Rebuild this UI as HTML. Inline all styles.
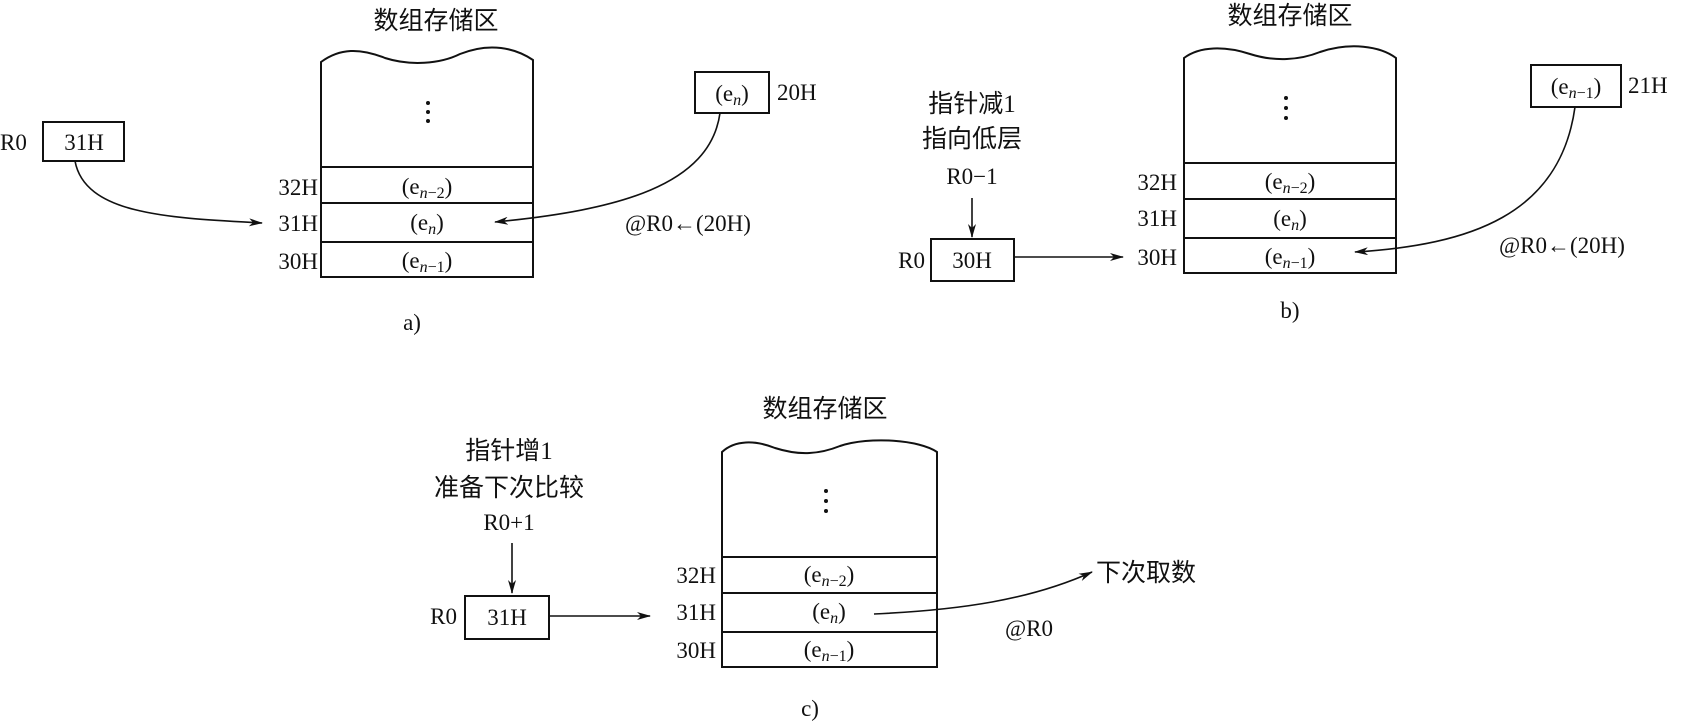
<!DOCTYPE html>
<html><head><meta charset="utf-8"><style>
html,body{margin:0;padding:0;background:#fff;}
svg{display:block;}
text{font-family:"Liberation Serif","Noto Serif CJK SC",serif;fill:#111;}
.cn{font-family:"Liberation Serif","Noto Sans CJK SC",sans-serif;font-size:25px;}
.t{font-size:23px;}
.s{font-size:16px;}
.i{font-style:italic;}
</style></head><body>
<svg width="1685" height="722" viewBox="0 0 1685 722" xmlns="http://www.w3.org/2000/svg">
<defs>
<marker id="ar" markerWidth="14" markerHeight="8" refX="13" refY="4" orient="auto" markerUnits="userSpaceOnUse">
<path d="M0,0 L14,4 L0,8 L4,4 Z" fill="#111"/></marker>
</defs>
<g stroke="#111" stroke-width="2" fill="none">
<!-- a -->
<path d="M321,277 V62 C340,48 360,48 385,58 C410,66 440,64 460,54 C490,42 515,48 533,60 V277 Z"/>
<line x1="321" y1="167" x2="533" y2="167"/><line x1="321" y1="203" x2="533" y2="203"/><line x1="321" y1="242" x2="533" y2="242"/>
<rect x="43" y="122" width="81" height="39"/>
<rect x="695" y="72" width="74" height="41"/>
<path d="M75,161 C85,215 170,218 262,223" marker-end="url(#ar)" stroke-width="1.6"/>
<path d="M720,113 C710,185 620,210 495,222" marker-end="url(#ar)" stroke-width="1.6"/>
<!-- b -->
<path d="M1184,273 V58 C1200,46 1225,46 1250,54 C1275,62 1300,60 1320,52 C1350,42 1380,46 1396,58 V273 Z"/>
<line x1="1184" y1="163" x2="1396" y2="163"/><line x1="1184" y1="199" x2="1396" y2="199"/><line x1="1184" y1="238" x2="1396" y2="238"/>
<rect x="1531" y="65" width="90" height="42"/>
<rect x="931" y="239" width="83" height="42"/>
<line x1="972" y1="198" x2="972" y2="237" marker-end="url(#ar)" stroke-width="1.6"/>
<line x1="1014" y1="257" x2="1123" y2="257" marker-end="url(#ar)" stroke-width="1.6"/>
<path d="M1575,107 C1560,215 1470,245 1355,252" marker-end="url(#ar)" stroke-width="1.6"/>
<!-- c -->
<path d="M722,667 V452 C735,440 755,440 775,448 C800,456 820,454 840,446 C870,436 920,440 937,452 V667 Z"/>
<line x1="722" y1="557" x2="937" y2="557"/><line x1="722" y1="593" x2="937" y2="593"/><line x1="722" y1="632" x2="937" y2="632"/>
<rect x="465" y="596" width="84" height="43"/>
<line x1="512" y1="543" x2="512" y2="593" marker-end="url(#ar)" stroke-width="1.6"/>
<line x1="549" y1="616" x2="650" y2="616" marker-end="url(#ar)" stroke-width="1.6"/>
<path d="M874,614 C960,610 1030,600 1092,572" marker-end="url(#ar)" stroke-width="1.6"/>
</g>
<g fill="#111">
<circle cx="428" cy="103" r="2"/><circle cx="428" cy="112" r="2"/><circle cx="428" cy="121" r="2"/>
<circle cx="1286" cy="98" r="2"/><circle cx="1286" cy="108" r="2"/><circle cx="1286" cy="118" r="2"/>
<circle cx="826" cy="491" r="2"/><circle cx="826" cy="501" r="2"/><circle cx="826" cy="511" r="2"/>
</g>
<!-- a text -->
<text class="cn" x="436" y="29" text-anchor="middle">数组存储区</text>
<text class="t" x="0" y="150">R0</text>
<text class="t" x="84" y="150" text-anchor="middle">31H</text>
<text class="t" x="318" y="195" text-anchor="end">32H</text>
<text class="t" x="318" y="231" text-anchor="end">31H</text>
<text class="t" x="318" y="269" text-anchor="end">30H</text>
<text class="t" x="427" y="194" text-anchor="middle">(e<tspan class="i s" dy="4">n</tspan><tspan class="s">−2</tspan><tspan dy="-4">)</tspan></text>
<text class="t" x="427" y="230" text-anchor="middle">(e<tspan class="i s" dy="4">n</tspan><tspan dy="-4">)</tspan></text>
<text class="t" x="427" y="268" text-anchor="middle">(e<tspan class="i s" dy="4">n</tspan><tspan class="s">−1</tspan><tspan dy="-4">)</tspan></text>
<text class="t" x="732" y="101" text-anchor="middle">(e<tspan class="i s" dy="4">n</tspan><tspan dy="-4">)</tspan></text>
<text class="t" x="777" y="100">20H</text>
<text class="t" x="625" y="231">@R0←(20H)</text>
<text class="t" x="412" y="330" text-anchor="middle">a)</text>
<!-- b text -->
<text class="cn" x="1290" y="24" text-anchor="middle">数组存储区</text>
<text class="cn" x="972" y="112" text-anchor="middle">指针减1</text>
<text class="cn" x="972" y="147" text-anchor="middle">指向低层</text>
<text class="t" x="972" y="184" text-anchor="middle">R0−1</text>
<text class="t" x="925" y="268" text-anchor="end">R0</text>
<text class="t" x="972" y="268" text-anchor="middle">30H</text>
<text class="t" x="1177" y="190" text-anchor="end">32H</text>
<text class="t" x="1177" y="226" text-anchor="end">31H</text>
<text class="t" x="1177" y="265" text-anchor="end">30H</text>
<text class="t" x="1290" y="189" text-anchor="middle">(e<tspan class="i s" dy="4">n</tspan><tspan class="s">−2</tspan><tspan dy="-4">)</tspan></text>
<text class="t" x="1290" y="226" text-anchor="middle">(e<tspan class="i s" dy="4">n</tspan><tspan dy="-4">)</tspan></text>
<text class="t" x="1290" y="264" text-anchor="middle">(e<tspan class="i s" dy="4">n</tspan><tspan class="s">−1</tspan><tspan dy="-4">)</tspan></text>
<text class="t" x="1576" y="94" text-anchor="middle">(e<tspan class="i s" dy="4">n</tspan><tspan class="s">−1</tspan><tspan dy="-4">)</tspan></text>
<text class="t" x="1628" y="93">21H</text>
<text class="t" x="1499" y="253">@R0←(20H)</text>
<text class="t" x="1290" y="318" text-anchor="middle">b)</text>
<!-- c text -->
<text class="cn" x="825" y="417" text-anchor="middle">数组存储区</text>
<text class="cn" x="509" y="459" text-anchor="middle">指针增1</text>
<text class="cn" x="509" y="496" text-anchor="middle">准备下次比较</text>
<text class="t" x="509" y="530" text-anchor="middle">R0+1</text>
<text class="t" x="457" y="624" text-anchor="end">R0</text>
<text class="t" x="507" y="625" text-anchor="middle">31H</text>
<text class="t" x="716" y="583" text-anchor="end">32H</text>
<text class="t" x="716" y="620" text-anchor="end">31H</text>
<text class="t" x="716" y="658" text-anchor="end">30H</text>
<text class="t" x="829" y="582" text-anchor="middle">(e<tspan class="i s" dy="4">n</tspan><tspan class="s">−2</tspan><tspan dy="-4">)</tspan></text>
<text class="t" x="829" y="619" text-anchor="middle">(e<tspan class="i s" dy="4">n</tspan><tspan dy="-4">)</tspan></text>
<text class="t" x="829" y="657" text-anchor="middle">(e<tspan class="i s" dy="4">n</tspan><tspan class="s">−1</tspan><tspan dy="-4">)</tspan></text>
<text class="cn" x="1096" y="581">下次取数</text>
<text class="t" x="1005" y="636">@R0</text>
<text class="t" x="810" y="716" text-anchor="middle">c)</text>
</svg>
</body></html>
